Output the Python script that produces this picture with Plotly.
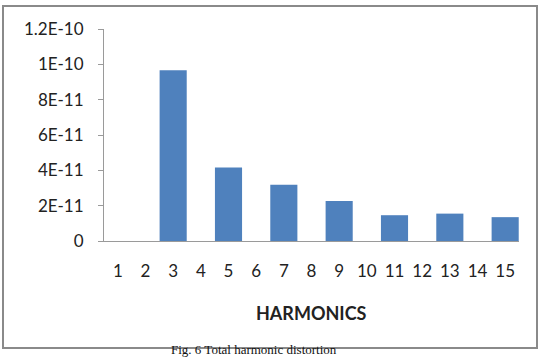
import plotly.graph_objects as go

harmonics = [str(i) for i in range(1, 16)]
thd_values = [None, None, 9.66e-11, None, 4.16e-11, None, 3.18e-11, None,
              2.27e-11, None, 1.46e-11, None, 1.55e-11, None, 1.35e-11]
y_tick_vals = [0, 2e-11, 4e-11, 6e-11, 8e-11, 1e-10, 1.2e-10]
y_tick_text = ["0", "2E-11", "4E-11", "6E-11", "8E-11", "1E-10", "1.2E-10"]

W, H = 544, 358
L, R, T, B = 104, 25, 29, 117
pw, ph = W - L - R, H - T - B

def px_x(p):
    return (p - L) / pw

def px_y(p):
    return (H - B - p) / ph

fig = go.Figure()
fig.add_trace(go.Bar(x=harmonics, y=thd_values, marker=dict(color="#4F81BD", line=dict(width=0))))

fig.update_layout(
    width=W, height=H,
    margin=dict(l=L, r=R, t=T, b=B),
    paper_bgcolor="white", plot_bgcolor="white",
    bargap=0.02, showlegend=False,
    font=dict(family="Lato", size=17, color="#222"),
    xaxis=dict(type="category", showline=True, linecolor="#9a9a9a", linewidth=1,
               ticks="", showgrid=False, ticklabelstandoff=15,
               tickfont=dict(family="Lato", size=17, color="#222")),
    yaxis=dict(range=[0, 1.2e-10], tickvals=y_tick_vals, ticktext=y_tick_text,
               showline=True, linecolor="#9a9a9a", linewidth=1, ticks="outside",
               ticklen=5, tickcolor="#9a9a9a", showgrid=False, zeroline=False,
               ticklabelstandoff=11, tickfont=dict(family="Lato", size=17, color="#222")),
    shapes=[dict(type="rect", xref="paper", yref="paper",
                 x0=px_x(3), x1=px_x(537), y0=px_y(348), y1=px_y(6),
                 line=dict(color="#8a8a8a", width=2), fillcolor="rgba(0,0,0,0)", layer="below")],
    annotations=[
        dict(text="<b>HARMONICS</b>", xref="paper", yref="paper", x=0.5, y=px_y(313),
             xanchor="center", yanchor="middle", showarrow=False,
             font=dict(family="Lato", size=18, color="#222")),
        dict(text="Fig. 6 Total harmonic distortion", xref="paper", yref="paper",
             x=px_x(254), y=px_y(358), xanchor="center", yanchor="bottom", showarrow=False,
             borderpad=0,
             font=dict(family="Liberation Serif", size=13, color="#111")),
    ],
)

fig.write_html("out.html")
